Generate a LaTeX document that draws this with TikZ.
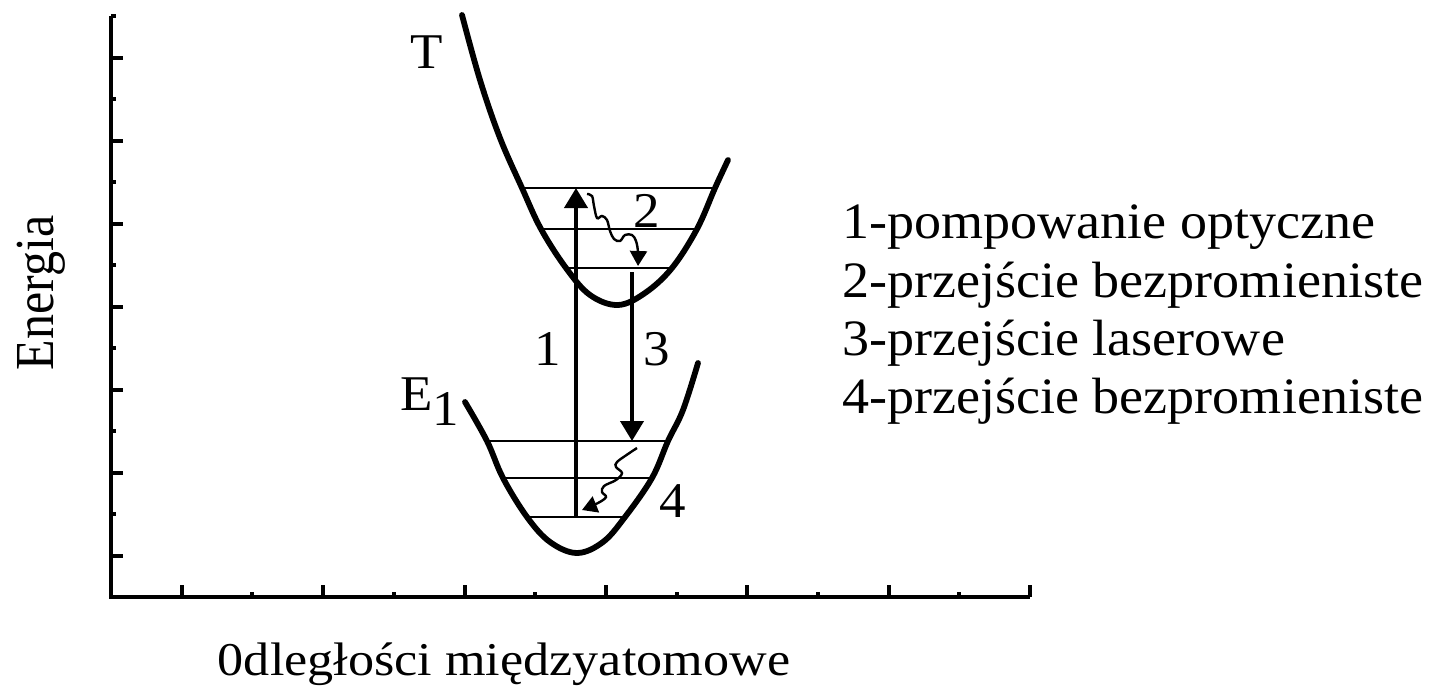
\documentclass[tikz,border=0pt]{standalone}
\usepackage{fontspec}
\setmainfont{Liberation Serif}
\usetikzlibrary{arrows.meta}
\begin{document}
\begin{tikzpicture}[x=1pt,y=-1pt,
  curve/.style={line width=5.8pt,line cap=round},
  levelline/.style={line width=2.6pt},
  axisline/.style={line width=4pt},
  trans/.style={line width=4pt,-{Triangle[length=20pt,width=23pt]}},
  wav/.style={line width=2.4pt,-{Triangle[length=15pt,width=17pt]}},
  lbl/.style={font=\fontsize{50}{60}\selectfont,inner sep=0pt,xscale=1.06},
  legend/.style={font=\fontsize{51}{60}\selectfont,inner sep=0pt,xscale=1.06,anchor=base west},
]
\useasboundingbox (0,0) rectangle (1435,688);
% axes
\draw[axisline] (111,16) -- (111,597) -- (1030,597);
\foreach \i in {1,...,14}{
  \pgfmathsetmacro{\yy}{597-\i*41.5}
  \ifodd\i \draw[line width=4pt] (111,\yy) -- (123,\yy);
  \else \draw[line width=4pt] (111,\yy) -- (116,\yy); \fi
}
\foreach \i in {1,...,13}{
  \pgfmathsetmacro{\xx}{111+\i*70.7}
  \ifodd\i \draw[line width=4pt] (\xx,597) -- (\xx,585);
  \else \draw[line width=4pt] (\xx,597) -- (\xx,592); \fi
}
% T curve
\draw[curve] plot[smooth,tension=0.6] coordinates {(462,15) (480,80) (500,138) (522,188) (541,229) (566,268) (590,295) (618,305) (645,293) (672,268) (697,229) (715,188) (728,160)};
\draw[levelline] (522,188) -- (716,188);
\draw[levelline] (541,229) -- (697,229);
\draw[levelline] (566,268) -- (672,268);
% E1 curve
\draw[curve] plot[smooth,tension=0.6] coordinates {(465,402) (487,441) (503,478) (527,517) (550,542) (577,553) (603,542) (625,517) (652,478) (668,441) (683,410) (698,363)};
\draw[levelline] (487,441) -- (668,441);
\draw[levelline] (503,478) -- (652,478);
\draw[levelline] (527,517) -- (625,517);
% transitions
\coordinate (a1s) at (576,517);
\coordinate (a1e) at (576,188);
\coordinate (a3s) at (632,272);
\coordinate (a3e) at (632,441);
\draw[trans] (a1s) -- (a1e);
\draw[trans] (a3s) -- (a3e);
\draw[wav] plot[smooth,tension=0.6] coordinates {(587,194) (592,196) (594,206) (597,218) (602,216) (607,220) (610,231) (614,239) (620,241) (625,235) (632,235) (636,241) (638,252) (638,266)};
\draw[wav] plot[smooth,tension=0.6] coordinates {(637,448) (628,454) (617,462) (616,467) (622,473) (616,480) (604,486) (602,492) (606,497) (598,503) (582,510)};
% labels
\node[lbl,anchor=base] (T) at (427,68) {T};
\node[lbl,anchor=base west] (E) at (400,410) {E\raisebox{-15pt}{1}};
\node[lbl,anchor=base] (n1) at (548,365) {1};
\node[lbl,anchor=base] (n3) at (657,365) {3};
\node[lbl,anchor=base] (n2) at (647,227) {2};
\node[lbl,anchor=base] (n4) at (673,517) {4};
\node[legend] (l1) at (842,238) {1-pompowanie optyczne};
\node[legend] (l2) at (842,297) {2-przejście bezpromieniste};
\node[legend] (l3) at (842,355) {3-przejście laserowe};
\node[legend] (l4) at (842,413) {4-przejście bezpromieniste};
\node[font=\fontsize{50}{60}\selectfont,inner sep=0pt,rotate=90,yscale=1.1,anchor=base] (ylab) at (53,293) {Energia};
\node[font=\fontsize{47}{56}\selectfont,inner sep=0pt,xscale=1.11,anchor=base] (xlab) at (504,675) {0dległości międzyatomowe};
\end{tikzpicture}
\end{document}
